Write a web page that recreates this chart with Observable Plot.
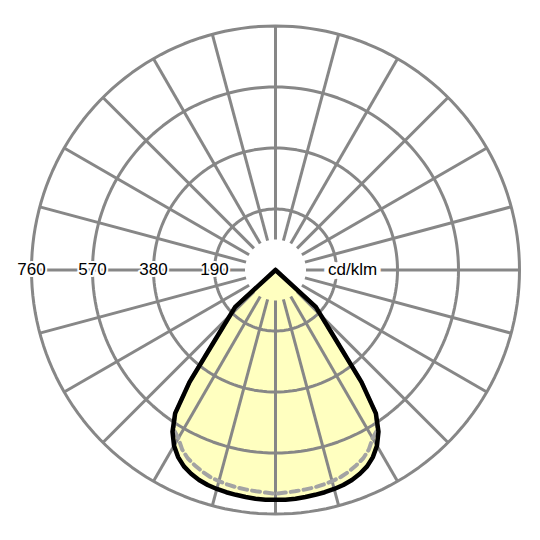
<!DOCTYPE html>
<html>
<head>
<meta charset="utf-8">
<script src="https://cdn.jsdelivr.net/npm/d3@7"></script>
<script src="https://cdn.jsdelivr.net/npm/@observablehq/plot@0.6"></script>
<style>
  html, body { margin: 0; padding: 0; background: #fff; }
  #chart { width: 540px; height: 540px; }
</style>
</head>
<body>
<div id="chart"></div>
<script>
// Gamma angles (degrees from nadir)
const gamma = [0, 2.5, 5, 7.5, 10, 12.5, 15, 17.5, 20, 22.5, 25, 27.5, 30, 32.5, 35, 37.5, 40, 42.5, 45, 47.5, 50,
               52.5, 55, 57.5, 60, 62.5, 65, 67.5, 70, 72.5, 75, 77.5, 80, 82.5, 85, 87.5, 90];
// C0-C180 plane (solid), cd/klm
const planeC0 = [716, 716, 715, 713, 711, 709, 706, 702, 696, 687, 675, 657, 632, 597, 545, 440, 315, 245, 200, 170, 0,
                 0, 0, 0, 0, 0, 0, 0, 0, 0, 0, 0, 0, 0, 0, 0, 0];
// C90-C270 plane (dashed), cd/klm
const planeC90 = [697, 694, 692, 690, 688, 685, 681, 676, 668, 658, 647, 630, 605, 590, 545, 440, 315, 245, 200, 170, 0,
                  0, 0, 0, 0, 0, 0, 0, 0, 0, 0, 0, 0, 0, 0, 0, 0];
// Grid rings and labels
const rings = [190, 380, 570, 760];
const ringLabels = ["190", "380", "570", "760"];
const unitLabel = "cd/klm";
const spokeAngles = d3.range(0, 360, 15);
const innerRadius = 95;
const maxR = 760;

const rad = d => d * Math.PI / 180;

function curve(values) {
  const pts = [];
  for (let i = gamma.length - 1; i >= 0; i--) {
    pts.push({x: -values[i] * Math.sin(rad(gamma[i])), y: -values[i] * Math.cos(rad(gamma[i]))});
  }
  for (let i = 1; i < gamma.length; i++) {
    pts.push({x: values[i] * Math.sin(rad(gamma[i])), y: -values[i] * Math.cos(rad(gamma[i]))});
  }
  return pts;
}

const solid = curve(planeC0);
const dashed = curve(planeC90);

const ringPts = rings.flatMap(v => d3.range(0, 361, 2).map(a => ({ring: v, x: v * Math.sin(rad(a)), y: v * Math.cos(rad(a))})));
const spokes = spokeAngles.map(a => ({
  x1: innerRadius * Math.sin(rad(a)), y1: innerRadius * Math.cos(rad(a)),
  x2: maxR * Math.sin(rad(a)), y2: maxR * Math.cos(rad(a))
}));
const labels = rings.map((v, i) => ({x: -v, y: 0, text: ringLabels[i]}));

const grid = "#878787";

const chart = Plot.plot({
  width: 540,
  height: 540,
  marginLeft: 31,
  marginRight: 21,
  marginTop: 25.5,
  marginBottom: 26.5,
  x: {domain: [-maxR, maxR], axis: null},
  y: {domain: [-maxR, maxR], axis: null},
  style: {background: "#fff"},
  marks: [
    Plot.line(solid, {x: "x", y: "y", fill: "#ffffc0", stroke: "none", curve: "linear"}),
    Plot.line(ringPts, {x: "x", y: "y", z: "ring", stroke: grid, strokeWidth: 3}),
    Plot.link(spokes, {x1: "x1", y1: "y1", x2: "x2", y2: "y2", stroke: grid, strokeWidth: 3}),
    Plot.line(dashed, {x: "x", y: "y", stroke: "#a3a3a3", strokeWidth: 4, strokeDasharray: "8,5", curve: "linear"}),
    Plot.line(solid, {x: "x", y: "y", stroke: "#000", strokeWidth: 4.5, strokeLinejoin: "round", curve: "linear"}),
    Plot.text(labels, {x: "x", y: "y", text: "text", fontSize: 17, fontFamily: "Liberation Sans, Arial, sans-serif", fill: "#000", stroke: "#fff", strokeWidth: 4}),
    Plot.text([{x: 240, y: 0, text: unitLabel}], {x: "x", y: "y", text: "text", fontSize: 17, fontFamily: "Liberation Sans, Arial, sans-serif", fill: "#000", stroke: "#fff", strokeWidth: 9})
  ]
});
document.getElementById("chart").appendChild(chart);
</script>
</body>
</html>
